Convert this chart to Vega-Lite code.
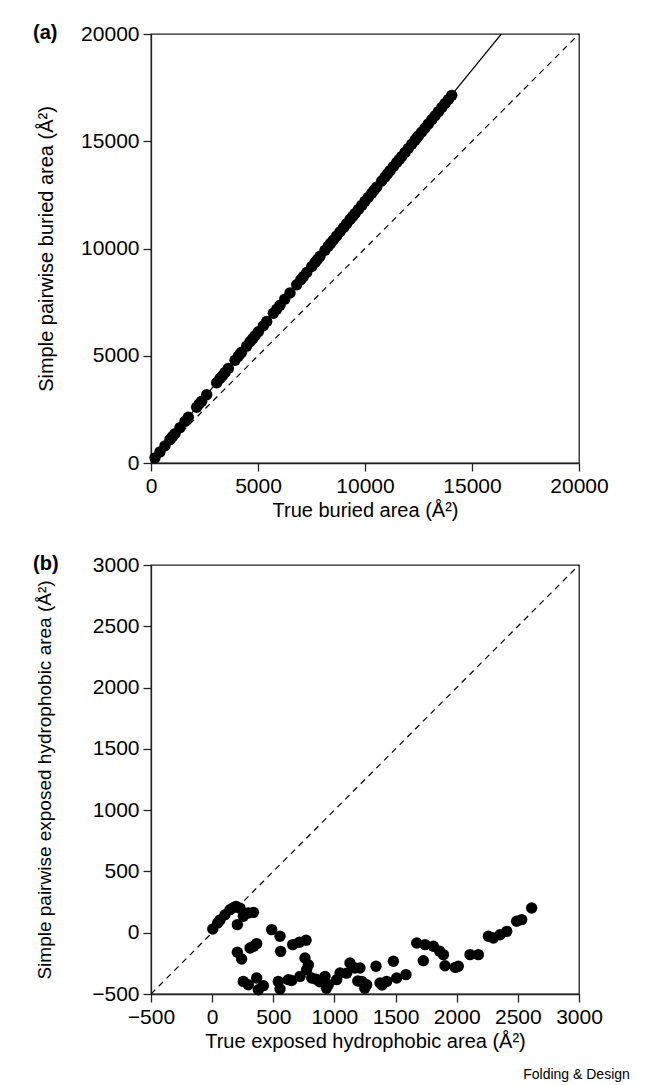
{
  "$schema": "https://vega.github.io/schema/vega-lite/v6.json",
  "autosize": {"type": "pad"},
  "padding": {"left": 32, "top": 22, "right": 8, "bottom": 4},
  "background": "white",
  "title": {"text": "Folding & Design", "orient": "bottom", "anchor": "end", "frame": "bounds", "fontSize": 14, "fontWeight": "normal", "font": "Liberation Sans", "color": "black", "offset": 16, "dx": 21},
  "config": {
    "font": "Liberation Sans",
    "view": {"stroke": "#222", "strokeWidth": 1.3},
    "axis": {"grid": false, "domainColor": "#222", "domainWidth": 1.3, "tickColor": "#222", "tickWidth": 1.3, "tickSize": 8, "labelFontSize": 21, "titleFontSize": 20, "labelColor": "black", "titleColor": "black", "titleFontWeight": "normal", "labelFlush": false, "labelOverlap": false, "labelBound": false, "labelPadding": 4, "labelFont": "Liberation Sans", "titleFont": "Liberation Sans"}
  },
  "datasets": {
    "a_pts": [
      {"x": 187, "y": 240}, {"x": 421, "y": 520}, {"x": 654, "y": 800}, {"x": 888, "y": 1090}, {"x": 1122, "y": 1370},
      {"x": 1355, "y": 1650}, {"x": 1589, "y": 1940}, {"x": 1745, "y": 2130}, {"x": 2134, "y": 2600}, {"x": 2368, "y": 2880},
      {"x": 2602, "y": 3180}, {"x": 3069, "y": 3740}, {"x": 3225, "y": 3940}, {"x": 3459, "y": 4220}, {"x": 3615, "y": 4410},
      {"x": 3926, "y": 4790}, {"x": 4082, "y": 4980}, {"x": 4238, "y": 5170}, {"x": 4471, "y": 5450}, {"x": 4627, "y": 5650},
      {"x": 4861, "y": 5930}, {"x": 5017, "y": 6120}, {"x": 5250, "y": 6400}, {"x": 5406, "y": 6600}, {"x": 5718, "y": 6980},
      {"x": 5874, "y": 7170}, {"x": 6029, "y": 7360}, {"x": 6497, "y": 7930}, {"x": 6808, "y": 8310}, {"x": 7120, "y": 8690},
      {"x": 7276, "y": 8880}, {"x": 7510, "y": 9160}, {"x": 7666, "y": 9350}, {"x": 7899, "y": 9640}, {"x": 8133, "y": 9920},
      {"x": 8289, "y": 10110}, {"x": 8522, "y": 10400}, {"x": 8678, "y": 10590}, {"x": 8834, "y": 10780}, {"x": 9145, "y": 11160},
      {"x": 9301, "y": 11350}, {"x": 9535, "y": 11630}, {"x": 9691, "y": 11820}, {"x": 9847, "y": 12010}, {"x": 10002, "y": 12200},
      {"x": 10158, "y": 12390}, {"x": 10314, "y": 12580}, {"x": 10548, "y": 12870}, {"x": 10781, "y": 13150}, {"x": 10937, "y": 13340},
      {"x": 11171, "y": 13630}, {"x": 11327, "y": 13820}, {"x": 11482, "y": 14010}, {"x": 11716, "y": 14290}, {"x": 11872, "y": 14480},
      {"x": 12028, "y": 14670}, {"x": 12184, "y": 14860}, {"x": 12339, "y": 15050}, {"x": 12417, "y": 15150}, {"x": 12651, "y": 15430},
      {"x": 12807, "y": 15620}, {"x": 12962, "y": 15810}, {"x": 13118, "y": 16000}, {"x": 13274, "y": 16190}, {"x": 13430, "y": 16380},
      {"x": 13586, "y": 16570}, {"x": 13741, "y": 16760}, {"x": 13897, "y": 16950}, {"x": 14053, "y": 17140},
      {"x": 1000, "y": 1230}, {"x": 2250, "y": 2750}, {"x": 3340, "y": 4070}, {"x": 4160, "y": 5080}, {"x": 4750, "y": 5790},
      {"x": 6250, "y": 7640}, {"x": 7000, "y": 8540}, {"x": 7780, "y": 9490}, {"x": 8400, "y": 10250}, {"x": 9000, "y": 10980},
      {"x": 9420, "y": 11490}, {"x": 10430, "y": 12730}, {"x": 11050, "y": 13480}, {"x": 11600, "y": 14150}, {"x": 12500, "y": 15260}
    ],
    "a_diag": [{"x": 0, "y": 0}, {"x": 20000, "y": 20000}],
    "a_fit": [{"x": 0, "y": 0}, {"x": 16370, "y": 20000}],
    "b_pts": [
      {"x": 5, "y": 30}, {"x": 45, "y": 80}, {"x": 65, "y": 105}, {"x": 105, "y": 147}, {"x": 146, "y": 188}, {"x": 175, "y": 205},
      {"x": 195, "y": 215}, {"x": 228, "y": 200}, {"x": 206, "y": 66}, {"x": 255, "y": 134}, {"x": 296, "y": 161}, {"x": 337, "y": 166},
      {"x": 487, "y": 25}, {"x": 555, "y": -29}, {"x": 560, "y": -152}, {"x": 659, "y": -97}, {"x": 713, "y": -78}, {"x": 768, "y": -62},
      {"x": 759, "y": -206}, {"x": 787, "y": -261}, {"x": 206, "y": -160}, {"x": 241, "y": -214}, {"x": 310, "y": -125}, {"x": 364, "y": -89},
      {"x": 340, "y": -110},
      {"x": 255, "y": -397}, {"x": 296, "y": -424}, {"x": 364, "y": -369}, {"x": 378, "y": -465}, {"x": 419, "y": -432}, {"x": 541, "y": -397},
      {"x": 555, "y": -459}, {"x": 623, "y": -383}, {"x": 719, "y": -356}, {"x": 773, "y": -301}, {"x": 814, "y": -369}, {"x": 850, "y": -380},
      {"x": 923, "y": -356}, {"x": 950, "y": -424}, {"x": 1018, "y": -383}, {"x": 1046, "y": -329}, {"x": 1127, "y": -247}, {"x": 1168, "y": -288},
      {"x": 1209, "y": -288}, {"x": 1223, "y": -397}, {"x": 1264, "y": -424}, {"x": 1340, "y": -274}, {"x": 1373, "y": -410}, {"x": 1427, "y": -397},
      {"x": 1482, "y": -233}, {"x": 1509, "y": -369}, {"x": 1585, "y": -342}, {"x": 935, "y": -453}, {"x": 1248, "y": -453}, {"x": 1191, "y": -394},
      {"x": 1389, "y": -426}, {"x": 880, "y": -400}, {"x": 1100, "y": -330}, {"x": 650, "y": -390},
      {"x": 1673, "y": -84}, {"x": 1741, "y": -97}, {"x": 1809, "y": -111}, {"x": 1727, "y": -228}, {"x": 1891, "y": -179}, {"x": 1904, "y": -269},
      {"x": 2013, "y": -274}, {"x": 2109, "y": -179}, {"x": 2177, "y": -179}, {"x": 2259, "y": -29}, {"x": 2300, "y": -43}, {"x": 2354, "y": -16},
      {"x": 2409, "y": 11}, {"x": 2490, "y": 93}, {"x": 2531, "y": 107}, {"x": 2613, "y": 202}, {"x": 1989, "y": -283}, {"x": 1860, "y": -150}
    ],
    "b_diag": [{"x": -500, "y": -500}, {"x": 3000, "y": 3000}]
  },
  "spacing": 32,
  "vconcat": [
    {
      "width": 428,
      "height": 429,
      "title": {"text": "(a)", "anchor": "start", "frame": "group", "orient": "top", "offset": 0, "baseline": "middle", "dx": -118, "dy": 30, "fontSize": 20, "fontWeight": "bold", "color": "black", "font": "Liberation Sans"},
      "encoding": {
        "x": {"field": "x", "type": "quantitative", "scale": {"domain": [0, 20000], "nice": false, "zero": false}, "axis": {"values": [0, 5000, 10000, 15000, 20000], "format": "d", "title": "True buried area (Å²)", "titlePadding": 4}},
        "y": {"field": "y", "type": "quantitative", "scale": {"domain": [0, 20000], "nice": false, "zero": false}, "axis": {"values": [0, 5000, 10000, 15000, 20000], "format": "d", "title": "Simple pairwise buried area (Å²)", "titlePadding": 24}}
      },
      "layer": [
        {"data": {"name": "a_diag"}, "mark": {"type": "line", "color": "black", "strokeWidth": 1.2, "strokeDash": [6, 5], "clip": true}, "encoding": {}},
        {"data": {"name": "a_fit"}, "mark": {"type": "line", "color": "black", "strokeWidth": 1.2, "clip": true}, "encoding": {}},
        {"data": {"name": "a_pts"}, "mark": {"type": "circle", "size": 130, "color": "black", "opacity": 1}}
      ]
    },
    {
      "width": 428,
      "height": 429,
      "title": {"text": "(b)", "anchor": "start", "frame": "group", "orient": "top", "offset": 0, "baseline": "middle", "dx": -118, "dy": 30, "fontSize": 20, "fontWeight": "bold", "color": "black", "font": "Liberation Sans"},
      "encoding": {
        "x": {"field": "x", "type": "quantitative", "scale": {"domain": [-500, 3000], "nice": false, "zero": false}, "axis": {"values": [-500, 0, 500, 1000, 1500, 2000, 2500, 3000], "format": "d", "title": "True exposed hydrophobic area (Å²)", "titlePadding": 4}},
        "y": {"field": "y", "type": "quantitative", "scale": {"domain": [-500, 3000], "nice": false, "zero": false}, "axis": {"values": [-500, 0, 500, 1000, 1500, 2000, 2500, 3000], "format": "d", "title": "Simple pairwise exposed hydrophobic area (Å²)", "titleFontSize": 19, "titlePadding": 37}}
      },
      "layer": [
        {"data": {"name": "b_diag"}, "mark": {"type": "line", "color": "black", "strokeWidth": 1.2, "strokeDash": [6, 5], "clip": true}, "encoding": {}},
        {"data": {"name": "b_pts"}, "mark": {"type": "circle", "size": 130, "color": "black", "opacity": 1}}
      ]
    }
  ]
}
